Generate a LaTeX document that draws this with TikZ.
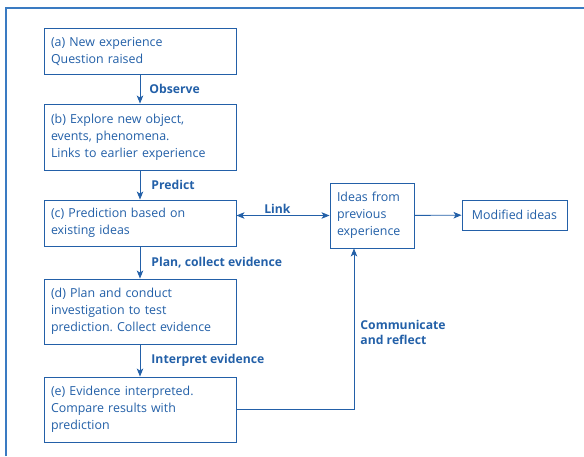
\documentclass[tikz,border=0pt]{standalone}
\usepackage{fontspec}
\setmainfont{Open Sans}
\usetikzlibrary{arrows.meta}
\definecolor{inkblue}{HTML}{2360A8}
\definecolor{frameblue}{HTML}{3A7BC2}
\frenchspacing
\begin{document}
\begin{tikzpicture}[
  x=1pt, y=-1pt,
  every node/.style = {font=\fontsize{12.4}{17}\selectfont, text=inkblue},
  box/.style = {draw=inkblue, line width=0.9pt, rectangle, align=left,
                fill=white, inner xsep=7pt, inner ysep=3pt},
  wide/.style = {box, text width=178pt, minimum width=192pt},
  lbl/.style  = {font=\fontsize{12.2}{15}\selectfont\bfseries, align=left, inner sep=2pt},
  go/.style   = {->, >={Stealth[length=8pt, width=6.5pt, inset=2pt]}, draw=inkblue, line width=0.9pt},
  both/.style = {<->, >={Stealth[length=8pt, width=6.5pt, inset=2pt]}, draw=inkblue, line width=0.9pt},
]
\useasboundingbox (0,0) rectangle (584,456);

% frame, only top and left edges are inside the picture
\draw[frameblue, line width=1.2pt] (6,456) -- (6,8) -- (584,8);

% --- Main chain of steps --------------------------------------------------
\node[wide, minimum height=46pt] (a) at (140,51) {(a) New experience\\ Question raised};

\node[wide, minimum height=66pt] (b) at (140,137) {(b) Explore new object,\\ events, phenomena.\\ Links to earlier experience};
\draw[go] (a) -- node[lbl, right, xshift=7pt] {Observe} (b);

\node[wide, minimum height=46pt] (c) at (140,223) {(c) Prediction based on\\ existing ideas};
\draw[go] (b) -- node[lbl, right, xshift=9pt] {Predict} (c);

\node[wide, minimum height=65pt] (d) at (140,311.5) {(d) Plan and conduct\\ investigation to test\\ prediction. Collect evidence};
\draw[go] (c) -- node[lbl, right, xshift=9pt] {Plan, collect evidence} (d);

\node[wide, minimum height=65pt] (e) at (140,409.5) {(e) Evidence interpreted.\\ Compare results with\\ prediction};
\draw[go] (d) -- node[lbl, right, xshift=9pt] {Interpret evidence} (e);

% --- Earlier ideas and what comes of them ---------------------------------
\node[box, text width=70pt, minimum width=84pt, minimum height=65pt] (ideas) at (372,215.5) {Ideas from\\ previous\\ experience};
\draw[both] (c.east |- ideas) -- node[lbl, above, pos=0.44] {Link} (ideas);

\node[box, minimum width=105pt, minimum height=30pt] (mod) at (514.5,215) {Modified ideas};
\draw[go] (ideas) -- (mod);

\draw[go] (e.east) -| node[lbl, right, pos=0.74, xshift=4pt] {Communicate\\ and reflect} ([xshift=-18pt]ideas.south);

\end{tikzpicture}
\end{document}
